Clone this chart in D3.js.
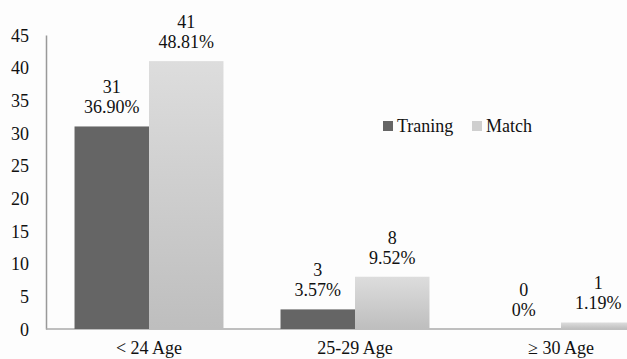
<!DOCTYPE html>
<html>
<head>
<meta charset="utf-8">
<script src="https://cdn.jsdelivr.net/npm/d3@7"></script>
<style>
  body { margin: 0; background: #fdfdfd; }
  svg { display: block; }
  svg text { font-family: "Liberation Serif", "Times New Roman", serif; font-size: 18px; fill: #111; }
</style>
</head>
<body>
<div id="chart"></div>
<script>
var categories = ["< 24 Age", "25-29 Age", "\u2265 30 Age"];
var series = ["Traning", "Match"];
var traning = [31, 3, 0];
var match = [41, 8, 1];
var traningPct = ["36.90%", "3.57%", "0%"];
var matchPct = ["48.81%", "9.52%", "1.19%"];
var yTicks = [0, 5, 10, 15, 20, 25, 30, 35, 40, 45];

var width = 627, height = 359;
var x0 = 46, y0 = 329, yTop = 35;

var svg = d3.select("#chart").append("svg")
  .attr("width", width).attr("height", height);

var defs = svg.append("defs");
var grad = defs.append("linearGradient").attr("id", "matchGrad")
  .attr("x1", 0).attr("y1", 0).attr("x2", 0).attr("y2", 1);
grad.append("stop").attr("offset", "0%").attr("stop-color", "#dddddd");
grad.append("stop").attr("offset", "100%").attr("stop-color", "#bebebe");

var x = d3.scaleBand().domain(categories).range([x0, x0 + 3 * 206]).padding(0);
var xs = d3.scaleBand().domain(series).range([0, x.bandwidth()]).paddingInner(0).paddingOuter(0.383);
var y = d3.scaleLinear().domain([0, 45]).range([y0, yTop]);

// y axis
var yAxis = d3.axisLeft(y).tickValues(yTicks).tickSize(0).tickPadding(17);
var gy = svg.append("g").attr("transform", "translate(" + x0 + ",0)").call(yAxis);
gy.select(".domain").attr("stroke", "#999").attr("stroke-width", 1.5);
gy.selectAll("text").attr("dy", "0.35em");

// baseline
svg.append("line").attr("x1", x0).attr("x2", width).attr("y1", y0).attr("y2", y0)
  .attr("stroke", "#aaa").attr("stroke-width", 1.5);

var flat = [];
categories.forEach(function(c, i) {
  flat.push({ cat: c, s: "Traning", v: traning[i], p: traningPct[i] });
  flat.push({ cat: c, s: "Match", v: match[i], p: matchPct[i] });
});

svg.selectAll("rect.bar").data(flat).enter().append("rect")
  .attr("class", "bar")
  .attr("x", function(d) { return x(d.cat) + xs(d.s); })
  .attr("y", function(d) { return y(d.v); })
  .attr("width", xs.bandwidth())
  .attr("height", function(d) { return y0 - y(d.v); })
  .attr("fill", function(d) { return d.s == "Traning" ? "#656565" : "url(#matchGrad)"; });

var lab = svg.selectAll("g.lab").data(flat).enter().append("g").attr("class", "lab")
  .attr("transform", function(d) {
    return "translate(" + (x(d.cat) + xs(d.s) + xs.bandwidth() / 2) + "," + y(d.v) + ")";
  })
  .attr("text-anchor", "middle");
lab.append("text").attr("y", -33).text(function(d) { return d.v; });
lab.append("text").attr("y", -13).text(function(d) { return d.p; });

// x labels
svg.selectAll("text.xl").data(categories).enter().append("text")
  .attr("class", "xl")
  .attr("x", function(d) { return x(d) + x.bandwidth() / 2; })
  .attr("y", 354)
  .attr("text-anchor", "middle")
  .text(function(d) { return d; });

// legend
var legX = [383, 472];
var leg = svg.selectAll("g.leg").data(series).enter().append("g").attr("class", "leg")
  .attr("transform", function(d, i) { return "translate(" + legX[i] + ",121)"; });
leg.append("rect").attr("width", 10).attr("height", 10)
  .attr("fill", function(d) { return d == "Traning" ? "#656565" : "#cfcfcf"; });
leg.append("text").attr("x", 14).attr("y", 11)
  .text(function(d) { return d; });
</script>
</body>
</html>
